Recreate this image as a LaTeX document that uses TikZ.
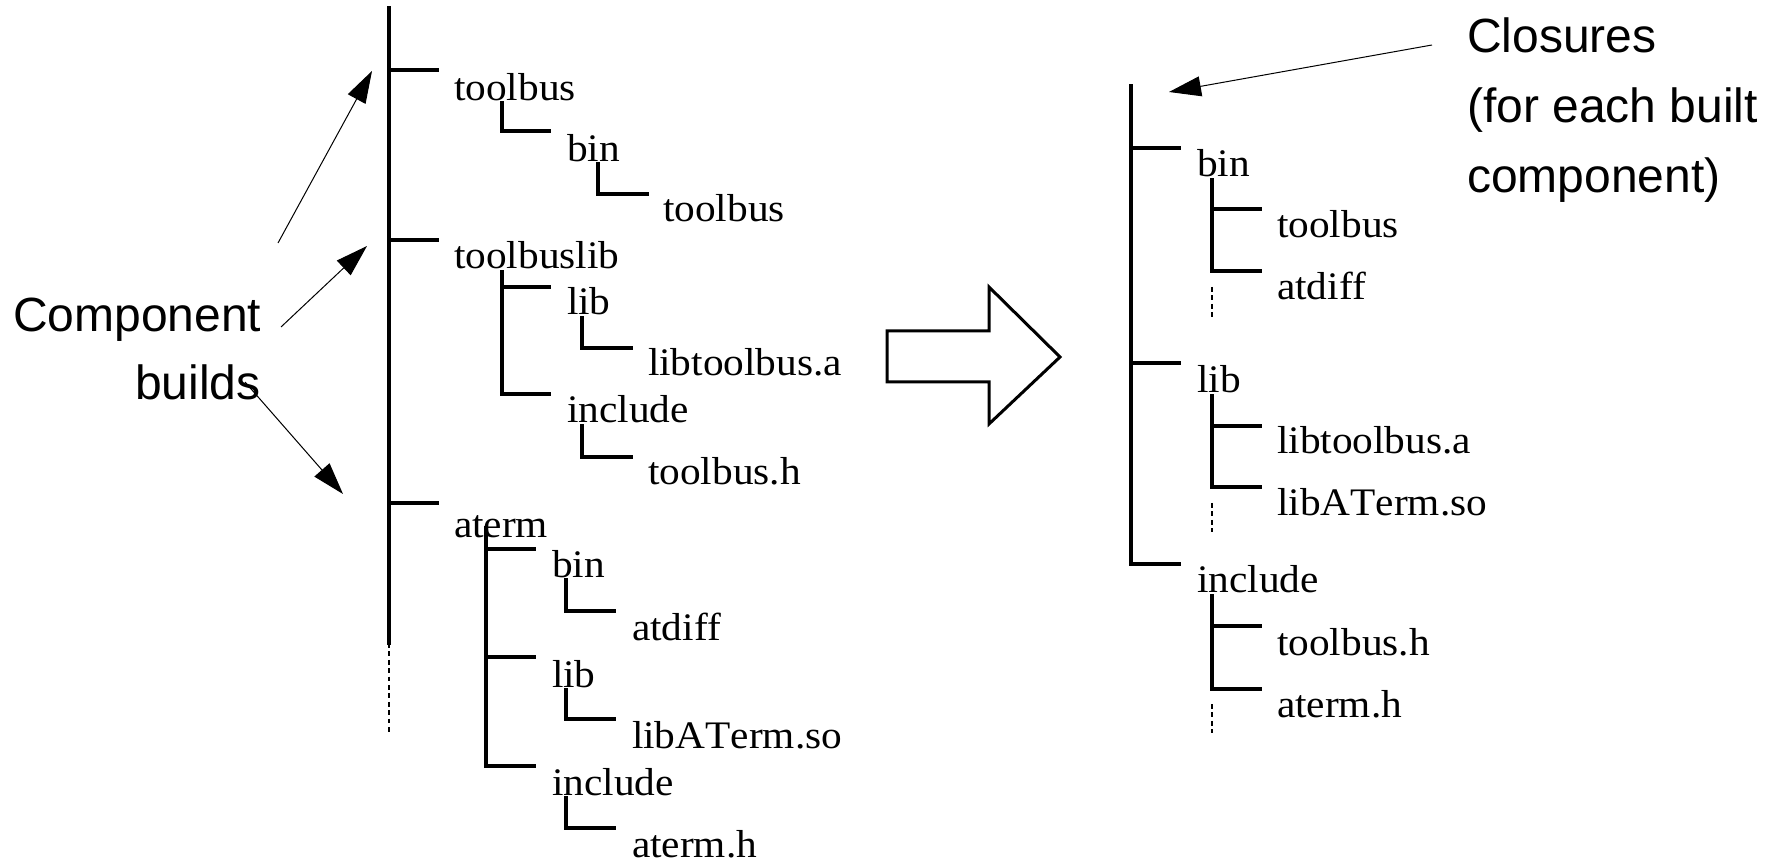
\documentclass[tikz,border=0pt]{standalone}
\usepackage{fontspec}
\usetikzlibrary{arrows.meta}
\newfontfamily\tms[FakeStretch=1.06,Kerning=Off]{Liberation Serif}
\newfontfamily\hv{Liberation Sans}
\tikzset{
  lbl/.style={anchor=base west, inner sep=0pt, outer sep=0pt, font=\tms\fontsize{19.5pt}{22pt}\selectfont},
  note/.style={anchor=base west, inner sep=0pt, outer sep=0pt, font=\hv\fontsize{24pt}{28pt}\selectfont},
  tree/.style={line width=1.55pt, line join=miter, line cap=rect},
  dots/.style={line width=1.4pt, dash pattern=on 2.4pt off 1.8pt},
  ann/.style={line width=0.5pt, -{Triangle[length=16pt,width=10pt]}},
  block/.style={line width=1.5pt, line join=miter, fill=white},
}
\begin{document}
\begin{tikzpicture}[x=0.5pt,y=-0.5pt]
\useasboundingbox (0,0) rectangle (1777,865);

% ---------- left tree ----------
\draw[tree] (389,8) -- (389,643);
\draw[dots] (389,643) -- (389,735);
\draw[tree] (389,70) -- (437,70);
\draw[tree] (389,240) -- (437,240);
\draw[tree] (389,503) -- (437,503);

\node[lbl] (tb) at (454,101) {toolbus};
\node[lbl] (tbl) at (454,269) {toolbuslib};
\node[lbl] (at) at (454,538) {aterm};

% toolbus
\draw[tree] (502,103) |- (549,131);
\node[lbl] (tbbin) at (567,162) {bin};
\draw[tree] (598,164) |- (647,194);
\node[lbl] (tbbintb) at (663,222) {toolbus};

% toolbuslib
\draw[tree] (502,272) |- (549,394);
\draw[tree] (502,287) -- (549,287);
\node[lbl] (tbllib) at (567,315) {lib};
\draw[tree] (582,318) |- (631,348);
\node[lbl] (tbllibA) at (648,376) {libtoolbus.a};
\node[lbl] (tblinc) at (567,423) {include};
\draw[tree] (582,426) |- (631,457);
\node[lbl] (tblincH) at (648,485) {toolbus.h};

% aterm
\draw[tree] (486,528) |- (534,766);
\draw[tree] (486,549) -- (534,549);
\draw[tree] (486,657) -- (534,657);
\node[lbl] (atbin) at (552,578) {bin};
\draw[tree] (566,580) |- (614,611);
\node[lbl] (atbinD) at (632,640) {atdiff};
\node[lbl] (atlib) at (552,687) {lib};
\draw[tree] (566,690) |- (614,719);
\node[lbl] (atlibS) at (632,748) {libATerm.so};
\node[lbl] (atinc) at (552,795) {include};
\draw[tree] (566,798) |- (614,828);
\node[lbl] (atincH) at (632,857) {aterm.h};

% ---------- block arrow ----------
\draw[block] (887,331) -- (989,331) -- (989,287) -- (1060,357) -- (989,424) -- (989,382) -- (887,382) -- cycle;

% ---------- right tree ----------
\draw[tree] (1131,86) |- (1179,564);
\draw[tree] (1131,148) -- (1179,148);
\draw[tree] (1131,363) -- (1179,363);

\node[lbl] (rbin) at (1197,177) {bin};
\draw[tree] (1212,180) |- (1260,271);
\draw[tree] (1212,209) -- (1260,209);
\node[lbl] (rbinT) at (1277,238) {toolbus};
\node[lbl] (rbinD) at (1277,300) {atdiff};
\draw[dots] (1212,287) -- (1212,317);

\node[lbl] (rlib) at (1197,393) {lib};
\draw[tree] (1212,396) |- (1260,487);
\draw[tree] (1212,426) -- (1260,426);
\node[lbl] (rlibA) at (1277,454) {libtoolbus.a};
\node[lbl] (rlibS) at (1277,516) {libATerm.so};
\draw[dots] (1212,503) -- (1212,532);

\node[lbl] (rinc) at (1197,593) {include};
\draw[tree] (1212,596) |- (1260,689);
\draw[tree] (1212,626) -- (1260,626);
\node[lbl] (rincT) at (1277,655) {toolbus.h};
\node[lbl] (rincA) at (1277,717) {aterm.h};
\draw[dots] (1212,704) -- (1212,733);

% ---------- annotations ----------
\node[note] (comp) at (13,332) {Component};
\node[note] (builds) at (135,400) {builds};
\node[note] (clos1) at (1467,53) {Closures};
\node[note] (clos2) at (1467,123) {(for each built};
\node[note] (clos3) at (1467,193) {component)};

\coordinate (c1s) at (278,243);
\coordinate (c1e) at (372,71);
\coordinate (c2s) at (281,327);
\coordinate (c2e) at (367,246);
\coordinate (c3s) at (245,382);
\coordinate (c3e) at (343,494);
\coordinate (cls) at (1432,45);
\coordinate (cle) at (1169,92);

\draw[ann] (c1s) -- (c1e);
\draw[ann] (c2s) -- (c2e);
\draw[ann] (c3s) -- (c3e);
\draw[ann] (cls) -- (cle);
\end{tikzpicture}
\end{document}
